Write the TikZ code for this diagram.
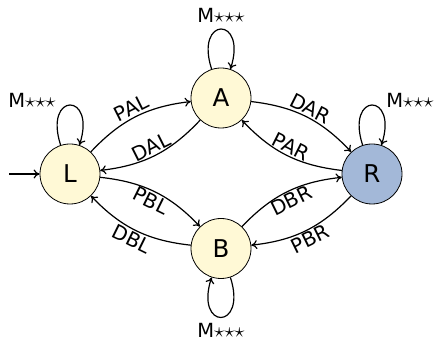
\documentclass[tikz,border=0pt]{standalone}
\usepackage{fontspec}
\setmainfont{DejaVu Sans}
\usetikzlibrary{arrows.meta}
\definecolor{statey}{RGB}{255,249,214}
\definecolor{stateb}{RGB}{163,184,216}
\begin{document}
\begin{tikzpicture}[x=1pt,y=1pt,
  >={To[length=6pt,width=9pt]},
  st/.style={circle,draw,line width=0.8pt,minimum size=60pt,inner sep=0pt,fill=statey,font=\fontsize{24.5}{28}\selectfont},
  edge/.style={->,line width=1.2pt,bend left=20},
  lab/.style={font=\fontsize{20}{23}\selectfont,sloped,inner sep=1.5pt},
  mlab/.style={font=\fontsize{19.5}{23}\selectfont,inner sep=0pt},
  selfloop/.style={->,line width=1.2pt,min distance=56pt,max distance=56pt}]
\useasboundingbox (0,0) rectangle (437,342);
\node[st] (L) at (70,168) {L};
\node[st] (A) at (221,244) {A};
\node[st,fill=stateb] (R) at (372,168) {R};
\node[st] (B) at (221,93.5) {B};
\coordinate (s) at (9,168);
\draw[->,line width=1.2pt] (s) -- (L);
\draw[edge] (L) to node[lab,above] {PAL} (A);
\draw[edge] (A) to node[lab,above] {DAL} (L);
\draw[edge] (A) to node[lab,above] {DAR} (R);
\draw[edge] (R) to node[lab,above] {PAR} (A);
\draw[edge] (L) to node[lab,below] {PBL} (B);
\draw[edge] (B) to node[lab,below] {DBL} (L);
\draw[edge] (B) to node[lab,below] {DBR} (R);
\draw[edge] (R) to node[lab,below] {PBR} (B);
\draw[selfloop] (L) to[out=108,in=72] (L);
\draw[selfloop] (A) to[out=108,in=72] (A);
\draw[selfloop] (R) to[out=108,in=72] (R);
\draw[selfloop] (B) to[out=-72,in=-108] (B);
\node[mlab] (mL) at (32,242) {M${\star}{\star}{\star}$};
\node[mlab] (mA) at (221,327) {M${\star}{\star}{\star}$};
\node[mlab] (mR) at (410,242) {M${\star}{\star}{\star}$};
\node[mlab] (mB) at (221,12) {M${\star}{\star}{\star}$};
\end{tikzpicture}
\end{document}
